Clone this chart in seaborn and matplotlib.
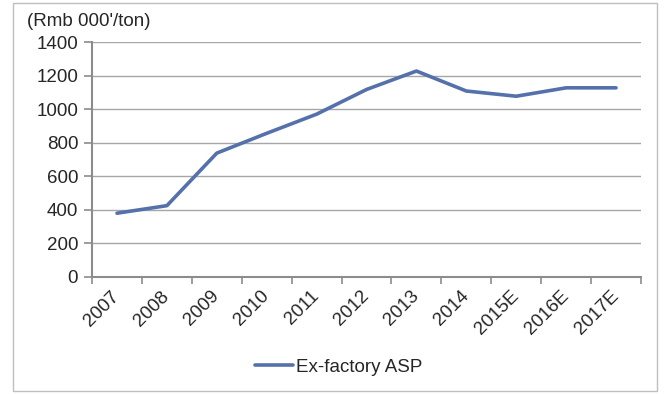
import numpy as np
import pandas as pd
import matplotlib
matplotlib.use("Agg")
import matplotlib.pyplot as plt
from matplotlib.patches import Rectangle
from matplotlib.ticker import FixedLocator
import seaborn as sns

years = ["2007", "2008", "2009", "2010", "2011", "2012", "2013", "2014",
         "2015E", "2016E", "2017E"]
asp = [380, 425, 738, 856, 970, 1117, 1227, 1108, 1077, 1127, 1127]
series_name = "Ex-factory ASP"
unit_label = "(Rmb 000'/ton)"
y_ticks = [0, 200, 400, 600, 800, 1000, 1200, 1400]

sns.set_theme(style="white")
plt.rcParams["font.family"] = ["Liberation Sans", "DejaVu Sans"]

df = pd.DataFrame({"year": years, "asp": asp})

fig = plt.figure(figsize=(6.67, 3.94), dpi=100)
ax = fig.add_axes([0.138, 0.297, 0.823, 0.5964])

line_color = "#5571ab"
grid_color = "#a6a6a6"
fs = 13.5

sns.lineplot(data=df, x="year", y="asp", ax=ax, color=line_color,
             linewidth=2.6, label=series_name, sort=False)

ax.set_xlim(-0.5, len(years) - 0.5)
ax.set_ylim(0, 1400)
ax.set_yticks(y_ticks)
ax.set_yticklabels([str(v) for v in y_ticks], fontsize=fs)
ax.yaxis.grid(True, color=grid_color, linewidth=1.0)
ax.xaxis.grid(False)
ax.set_axisbelow(True)

# category labels at the centres, tick marks on the boundaries
ax.set_xticks(range(len(years)))
ax.set_xticklabels(years, fontsize=fs, rotation=45, ha="right",
                   va="center", rotation_mode="anchor")
ax.xaxis.set_minor_locator(FixedLocator(np.arange(-0.5, len(years), 1.0)))
ax.tick_params(axis="x", which="major", length=0, pad=12)
ax.tick_params(axis="x", which="minor", length=5, width=1.2,
               color="#8c8c8c", direction="out", bottom=True)
ax.tick_params(axis="y", which="major", length=6, width=1.2,
               color="#8c8c8c", direction="out", left=True, pad=4)

for side in ["top", "right"]:
    ax.spines[side].set_visible(False)
for side in ["left", "bottom"]:
    ax.spines[side].set_color("#8c8c8c")
    ax.spines[side].set_linewidth(1.5)

ax.set_xlabel("")
ax.set_ylabel("")
ax.get_legend().remove()

fig.text(27 / 667, 1 - 22 / 394, unit_label, fontsize=fs,
         ha="left", va="center")

handles, labels = ax.get_legend_handles_labels()
fig.legend(handles, labels, loc="center", bbox_to_anchor=(0.508, 0.068),
           frameon=False, fontsize=fs, handlelength=2.0, handletextpad=0.2)

fig.patches.append(Rectangle((13 / 667, 1 - 391 / 394), 644 / 667, 388 / 394,
                             transform=fig.transFigure, fill=False,
                             edgecolor="#bfbfbf", linewidth=1.0))

fig.savefig("out.png", dpi=100)
